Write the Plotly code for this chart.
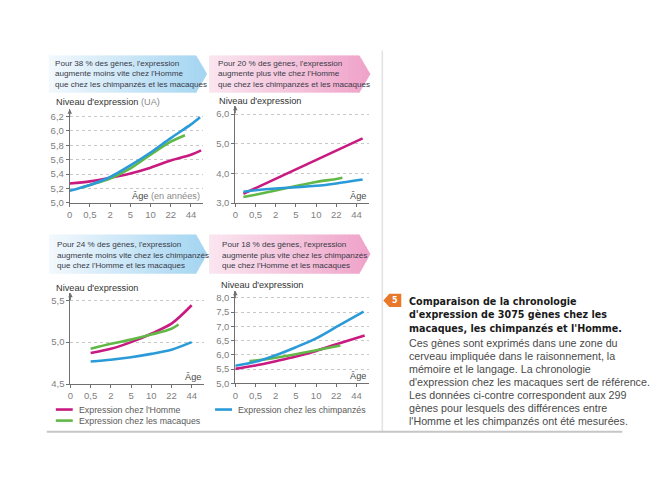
import plotly.graph_objects as go

W, H = 669, 497
OFF = 8        # page body margin of the html page
YSCALE = 0.984  # vertical squeeze observed in the photographed page


def px(x):
    return (x - OFF) / W


def py(y):
    return 1 - (y / YSCALE - OFF) / H


# ---------------- data ----------------
AGE_LABELS = ["0", "0,5", "2", "5", "10", "22", "44"]
AGE_POS = [0, 1, 2, 3, 4, 5, 6]

SERIES = ["Expression chez l'Homme", "Expression chez les macaques", "Expression chez les chimpanzés"]
COLORS = ["#c81a80", "#62b846", "#2a9bd8"]

# Panel 1 (38 %)
p1_homme_x = [0, 1, 2, 3, 4, 5, 6, 6.5]
p1_homme_y = [5.27, 5.30, 5.35, 5.41, 5.49, 5.59, 5.67, 5.73]
p1_mac_x = [0.55, 1, 2, 3, 4, 5, 5.7]
p1_mac_y = [5.21, 5.25, 5.34, 5.48, 5.67, 5.85, 5.94]
p1_chimp_x = [0, 1, 2, 3, 4, 5, 6, 6.45]
p1_chimp_y = [5.17, 5.25, 5.36, 5.52, 5.70, 5.90, 6.09, 6.19]

# Panel 2 (20 %)
p2_homme_x = [0.4, 6.3]
p2_homme_y = [3.31, 5.18]
p2_mac_x = [0.4, 1, 2, 3, 4, 5, 5.3]
p2_mac_y = [3.20, 3.28, 3.42, 3.57, 3.71, 3.81, 3.85]
p2_chimp_x = [0.4, 1, 2, 3, 4, 5, 6.3]
p2_chimp_y = [3.38, 3.43, 3.49, 3.53, 3.58, 3.66, 3.79]

# Panel 3 (24 %)
p3_homme_x = [1, 2, 3, 4, 5, 6]
p3_homme_y = [4.87, 4.92, 5.00, 5.10, 5.22, 5.44]
p3_mac_x = [1, 2, 3, 4, 5, 5.35]
p3_mac_y = [4.92, 4.98, 5.03, 5.09, 5.16, 5.21]
p3_chimp_x = [1, 2, 3, 4, 5, 6]
p3_chimp_y = [4.77, 4.79, 4.82, 4.86, 4.91, 5.00]

# Panel 4 (18 %)
p4_homme_x = [0, 1, 2, 3, 4, 5, 6.4]
p4_homme_y = [5.51, 5.63, 5.78, 5.94, 6.14, 6.37, 6.68]
p4_mac_x = [0.7, 1, 2, 3, 4, 5.2]
p4_mac_y = [5.78, 5.80, 5.90, 6.02, 6.16, 6.33]
p4_chimp_x = [0, 1, 2, 3, 4, 5, 6.35]
p4_chimp_y = [5.62, 5.76, 5.99, 6.27, 6.58, 6.98, 7.52]

p1_yticks = [5.0, 5.2, 5.4, 5.6, 5.8, 6.0, 6.2]
p1_ylabels = ["5,0", "5,2", "5,4", "5,6", "5,8", "6,0", "6,2"]
p2_yticks = [3.0, 4.0, 5.0, 6.0]
p2_ylabels = ["3,0", "4,0", "5,0", "6,0"]
p3_yticks = [4.5, 5.0, 5.5]
p3_ylabels = ["4,5", "5,0", "5,5"]
p4_yticks = [5.0, 5.5, 6.0, 6.5, 7.0, 7.5, 8.0]
p4_ylabels = ["5,0", "5,5", "6,0", "6,5", "7,0", "7,5", "8,0"]

BANNER_TEXTS = [
    "Pour 38 % des gènes, l'expression<br>augmente moins vite chez l'Homme<br>que chez les chimpanzés et les macaques",
    "Pour 20 % des gènes, l'expression<br>augmente plus vite chez l'Homme<br>que chez les chimpanzés et les macaques",
    "Pour 24 % des gènes, l'expression<br>augmente moins vite chez les chimpanzés<br>que chez l'Homme et les macaques",
    "Pour 18 % des gènes, l'expression<br>augmente plus vite chez les chimpanzés<br>que chez l'Homme et les macaques",
]

CAPTION_BOLD = ["Comparaison de la chronologie",
                "d'expression de 3075 gènes chez les",
                "macaques, les chimpanzés et l'Homme."]
CAPTION_TEXT = ["Ces gènes sont exprimés dans une zone du",
                "cerveau impliquée dans le raisonnement, la",
                "mémoire et le langage. La chronologie",
                "d'expression chez les macaques sert de référence.",
                "Les données ci-contre correspondent aux 299",
                "gènes pour lesquels des différences entre",
                "l'Homme et les chimpanzés ont été mesurées."]

FONT = "Liberation Sans, Arial, sans-serif"

# ---------------- layout geometry (reference pixels) ----------------
panels = [
    dict(xs=[p1_homme_x, p1_mac_x, p1_chimp_x], ys=[p1_homme_y, p1_mac_y, p1_chimp_y],
         x0=67.0, step=20.3, xmax=6.6, ybot=201.7, yr=(5.0, 6.3), ppu=71.7,
         yt=p1_yticks, yl=p1_ylabels, ytitle="Niveau d'expression <span style='color:#8a8a8a'>(UA)</span>",
         ytx=51, yty=101, age="Âge <span style='color:#8a8a8a'>(en années)</span>"),
    dict(xs=[p2_homme_x, p2_mac_x, p2_chimp_x], ys=[p2_homme_y, p2_mac_y, p2_chimp_y],
         x0=233.3, step=20.3, xmax=6.6, ybot=201.7, yr=(3.0, 6.28), ppu=29.47,
         yt=p2_yticks, yl=p2_ylabels, ytitle="Niveau d'expression",
         ytx=215, yty=100, age="Âge"),
    dict(xs=[p3_homme_x, p3_mac_x, p3_chimp_x], ys=[p3_homme_y, p3_mac_y, p3_chimp_y],
         x0=67.7, step=20.3, xmax=6.6, ybot=381.7, yr=(4.5, 5.59), ppu=83.4,
         yt=p3_yticks, yl=p3_ylabels, ytitle="Niveau d'expression",
         ytx=51, yty=286, age="Âge"),
    dict(xs=[p4_homme_x, p4_mac_x, p4_chimp_x], ys=[p4_homme_y, p4_mac_y, p4_chimp_y],
         x0=233.3, step=20.3, xmax=6.6, ybot=381.0, yr=(5.0, 8.25), ppu=28.33,
         yt=p4_yticks, yl=p4_ylabels, ytitle="Niveau d'expression",
         ytx=217, yty=283, age="Âge"),
]

fig = go.Figure()
layout = dict(width=W, height=H, margin=dict(l=0, r=0, t=0, b=0), autosize=False,
              paper_bgcolor="white", plot_bgcolor="white", showlegend=False)
annotations = []
shapes = []

for i, p in enumerate(panels, start=1):
    xa = "x" if i == 1 else f"x{i}"
    ya = "y" if i == 1 else f"y{i}"
    xl = "xaxis" if i == 1 else f"xaxis{i}"
    yl = "yaxis" if i == 1 else f"yaxis{i}"
    xleft = p["x0"]
    xright = p["x0"] + p["xmax"] * p["step"]
    ytop = p["ybot"] - (p["yr"][1] - p["yr"][0]) * p["ppu"]
    for k in range(3):
        fig.add_trace(go.Scatter(x=p["xs"][k], y=p["ys"][k], mode="lines", name=SERIES[k],
                                 line=dict(color=COLORS[k], width=2.6, shape="spline", smoothing=0.8),
                                 xaxis=xa, yaxis=ya, hoverinfo="skip"))
    layout[xl] = dict(domain=[px(xleft), px(xright)], range=[0, p["xmax"]], anchor=ya,
                      tickvals=AGE_POS, ticktext=AGE_LABELS, showgrid=False, zeroline=False,
                      showline=True, linecolor="#707070", linewidth=1, ticks="outside", ticklen=3,
                      tickcolor="#707070", tickfont=dict(family=FONT, size=9.5, color="#808080"))
    layout[yl] = dict(domain=[py(p["ybot"]), py(ytop)], range=list(p["yr"]), anchor=xa,
                      tickvals=p["yt"], ticktext=p["yl"], showgrid=True, gridcolor="#c8c8c8",
                      griddash="dot", gridwidth=1, zeroline=False, showline=True,
                      linecolor="#707070", linewidth=1, ticks="outside", ticklen=3,
                      tickcolor="#707070", tickfont=dict(family=FONT, size=9.5, color="#808080"))
    # y axis arrow
    annotations.append(dict(xref=xa, yref=ya, x=0, y=p["yr"][1], ax=0, ay=9, text="",
                            showarrow=True, arrowhead=2, arrowsize=0.9, arrowwidth=1,
                            arrowcolor="#707070"))
    # y title
    annotations.append(dict(xref="paper", yref="paper", x=px(p["ytx"]), y=py(p["yty"]),
                            xanchor="left", yanchor="middle", showarrow=False, text=p["ytitle"],
                            font=dict(family=FONT, size=9.2, color="#333333")))
    # age label
    annotations.append(dict(xref="paper", yref="paper", x=px(xright - 1), y=py(p["ybot"] - 7),
                            xanchor="right", yanchor="middle", showarrow=False, text=p["age"],
                            font=dict(family=FONT, size=9.2, color="#4a4a4a")))


# ---------------- banners (gradient arrows) ----------------
def hex2rgb(h):
    h = h.lstrip("#")
    return [int(h[j:j + 2], 16) for j in (0, 2, 4)]


def mix(c1, c2, t):
    a, b = hex2rgb(c1), hex2rgb(c2)
    return "rgb({},{},{})".format(*[round(a[j] + (b[j] - a[j]) * t) for j in range(3)])


def banner(x0, x1, tip, y0, y1, cl, cr, n=36):
    ym = (y0 + y1) / 2

    def top(x):
        if x <= x1:
            return y0
        return y0 + (min(x, tip) - x1) / (tip - x1) * (ym - y0)

    def bot(x):
        if x <= x1:
            return y1
        return y1 - (min(x, tip) - x1) / (tip - x1) * (y1 - ym)

    out = []
    for s in range(n):
        a = x0 + (tip - x0) * s / n
        b = min(x0 + (tip - x0) * (s + 1) / n + 0.6, tip)
        if a < x1 < b:
            pts = [(a, top(a)), (x1, y0), (b, top(b)), (b, bot(b)), (x1, y1), (a, bot(a))]
        else:
            pts = [(a, top(a)), (b, top(b)), (b, bot(b)), (a, bot(a))]
        path = "M " + " L ".join(f"{px(X):.5f},{py(Y):.5f}" for X, Y in pts) + " Z"
        out.append(dict(type="path", xref="paper", yref="paper", path=path,
                        fillcolor=mix(cl, cr, (s + 0.5) / n), line=dict(width=0), layer="below"))
    return out


BLUE_L, BLUE_R = "#f3f9fd", "#a3d4f1"
PINK_L, PINK_R = "#fae6f0", "#efa2c8"
banners = [
    (46, 194, 205, 55, 92, BLUE_L, BLUE_R, 50, 58),
    (207, 358, 369, 55, 92, PINK_L, PINK_R, 214, 58),
    (46, 194, 205, 233, 272, BLUE_L, BLUE_R, 52, 238),
    (207, 358, 369, 233, 272, PINK_L, PINK_R, 218, 238),
]
for j, (x0, x1, tip, y0, y1, cl, cr, tx, ty) in enumerate(banners):
    shapes += banner(x0, x1, tip, y0, y1, cl, cr)
    for li, line in enumerate(BANNER_TEXTS[j].split("<br>")):
        annotations.append(dict(xref="paper", yref="paper", x=px(tx), y=py(ty + 5 + li * 10.4),
                                xanchor="left", yanchor="middle", showarrow=False, text=line,
                                font=dict(family=FONT, size=8.1, color="#3a3a48")))

# separators
shapes.append(dict(type="line", xref="paper", yref="paper", x0=px(381), x1=px(381), y0=py(50),
                   y1=py(429), line=dict(color="#e2e2e2", width=1.5)))
shapes.append(dict(type="line", xref="paper", yref="paper", x0=px(44), x1=px(622), y0=py(429),
                   y1=py(429), line=dict(color="#c6c6c6", width=2)))

# ---------------- legend (manual) ----------------
legend_pos = [(53, 407), (53, 418), (213, 407)]
for k, (lx, ly) in enumerate(legend_pos):
    shapes.append(dict(type="line", xref="paper", yref="paper", x0=px(lx), x1=px(lx + 17),
                       y0=py(ly), y1=py(ly), line=dict(color=COLORS[k], width=2.6)))
    annotations.append(dict(xref="paper", yref="paper", x=px(lx + 21), y=py(ly), xanchor="left",
                            yanchor="middle", showarrow=False, text=SERIES[k],
                            font=dict(family=FONT, size=8.8, color="#5a5a5a")))

# ---------------- caption ----------------
badge = [(382, 298.5), (388, 292), (400, 292), (400, 305), (388, 305)]
shapes.append(dict(type="path", xref="paper", yref="paper",
                   path="M " + " L ".join(f"{px(X):.5f},{py(Y):.5f}" for X, Y in badge) + " Z",
                   fillcolor="#e8782a", line=dict(width=0)))
annotations.append(dict(xref="paper", yref="paper", x=px(394), y=py(298.5), xanchor="center",
                        yanchor="middle", showarrow=False, text="<b>5</b>",
                        font=dict(family="DejaVu Sans", size=8, color="white")))
for li, line in enumerate(CAPTION_BOLD):
    annotations.append(dict(xref="paper", yref="paper", x=px(406), y=py(299.5 + li * 13.3),
                            xanchor="left", yanchor="middle", showarrow=False, text="<b>" + line + "</b>",
                            font=dict(family="DejaVu Sans", size=9.6, color="#1a1a1a")))
for li, line in enumerate(CAPTION_TEXT):
    annotations.append(dict(xref="paper", yref="paper", x=px(406), y=py(340.5 + li * 13.0),
                            xanchor="left", yanchor="middle", showarrow=False, text=line,
                            font=dict(family=FONT, size=10.7, color="#4a4a4a")))

layout["annotations"] = annotations
layout["shapes"] = shapes
fig.update_layout(**layout)
fig.write_html("out.html")
